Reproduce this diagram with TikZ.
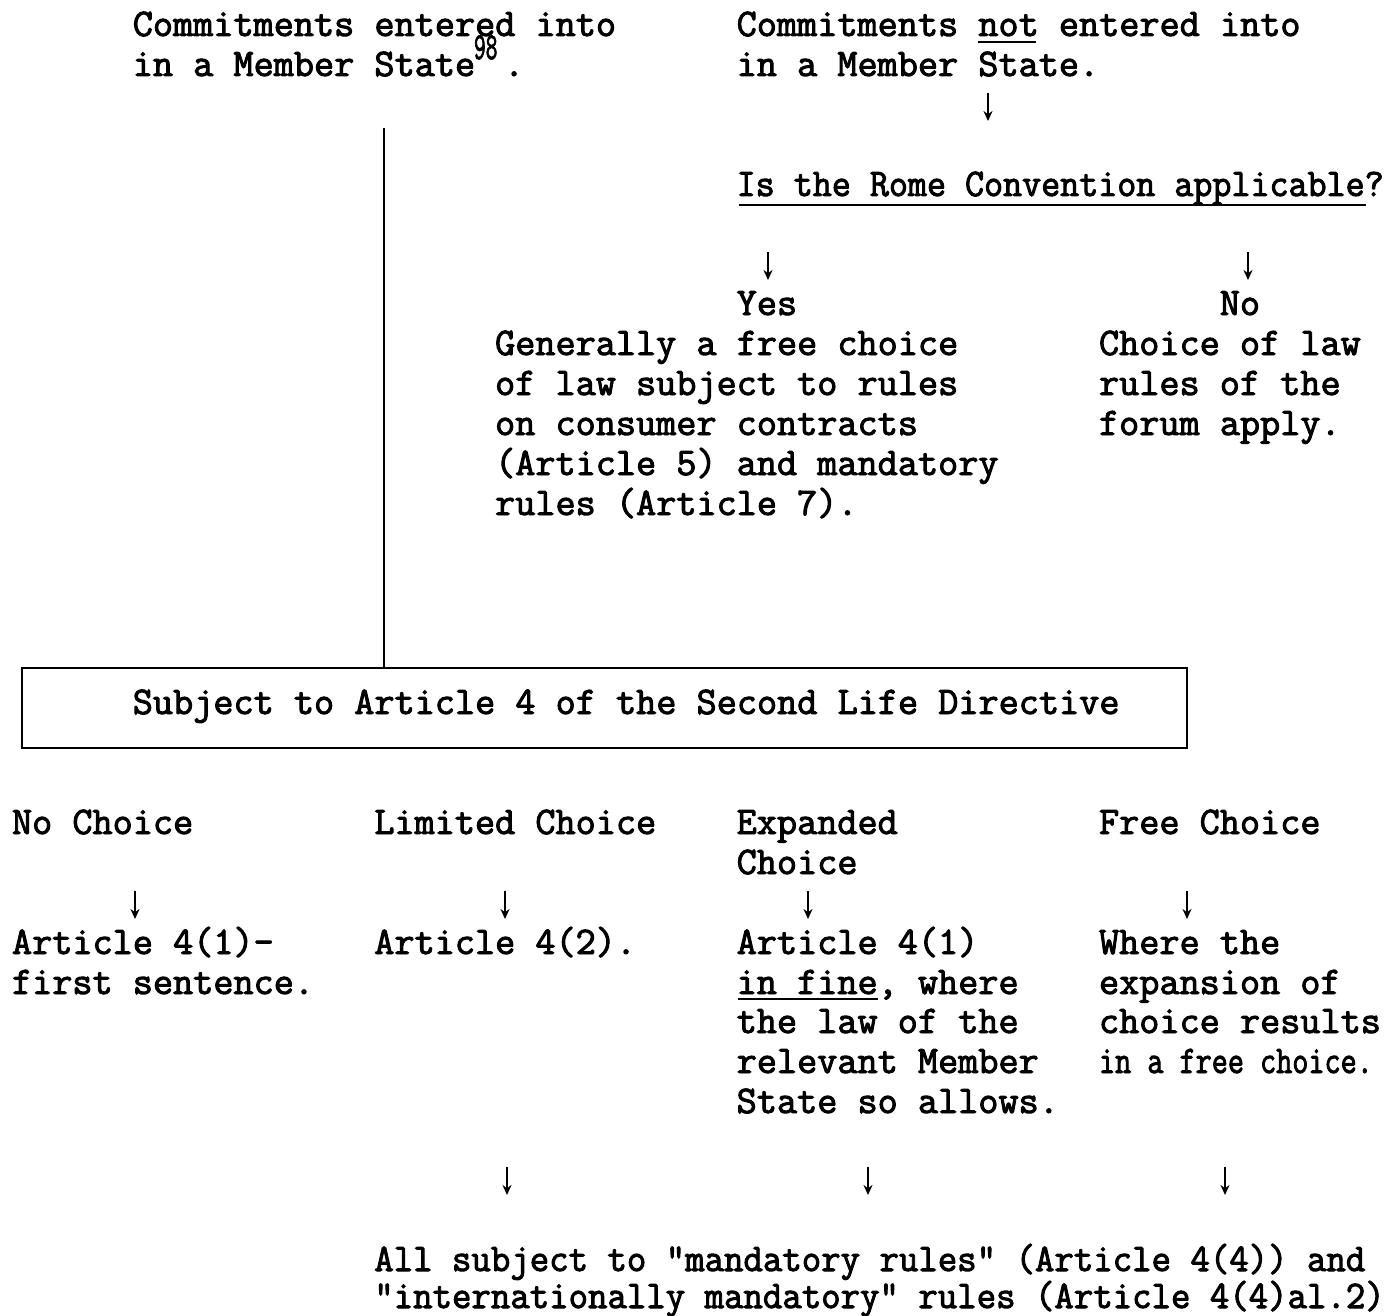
\documentclass[tikz,border=0pt]{standalone}
\usepackage{fontspec}
\usepackage{graphicx}
\usetikzlibrary{arrows.meta}
\newfontfamily\tw{Latin Modern Mono}[FakeBold=2.5]
\newcommand\dnarrow[3]{\coordinate (#1t) at (#2,{#3-23}); \coordinate (#1b) at (#2,{#3+5}); \draw[arr] (#1t) -- (#1b);}
\begin{document}
\begin{tikzpicture}[x=1pt,y=-1pt,
  tl/.style={anchor=base west, inner sep=0pt, outer sep=0pt, font=\fontsize{39.1}{40}\selectfont\tw},
  arr/.style={line width=1.8pt, -{Stealth[length=10pt,width=9pt]}},
  ul/.style={line width=1.8pt},
  frame/.style={draw, line width=2pt, inner sep=0pt, outer sep=0pt}]
\useasboundingbox (0,0) rectangle (1390,1316);

% top left
\node[tl] (l0a) at (132.8,36) {Commitments entered into};
\node[tl] (l1a) at (132.8,76) {in a Member State};
\node[tl, font=\fontsize{38}{38}\selectfont\tw] (sup) at (474,59) {\scalebox{0.6}[1]{98}};
\node[tl] (dot) at (504,76) {.};

% top right
\node[tl] (l0b) at (736.7,36) {Commitments not entered into};
\node[tl] (l1b) at (736.7,76) {in a Member State.};
\draw[ul] (978.2,42) -- (1036,42);
\dnarrow{a1}{988}{116}
\node[tl] (rome) at (736.7,196) {\scalebox{0.945}[1]{Is the Rome Convention applicable?}};
\draw[ul] (739,205) -- (1366,205);
\dnarrow{a2}{768}{275}
\dnarrow{a3}{1248}{275}
\node[tl] (yes) at (736.7,315) {Yes};
\node[tl] (no) at (1219.8,315) {No};
\node[tl] (g1) at (495.1,355) {Generally a free choice};
\node[tl] (g2) at (495.1,395) {of law subject to rules};
\node[tl] (g3) at (495.1,435) {on consumer contracts};
\node[tl] (g4) at (495.1,475) {(Article 5) and mandatory};
\node[tl] (g5) at (495.1,515) {rules (Article 7).};
\node[tl] (c1) at (1099,355) {Choice of law};
\node[tl] (c2) at (1099,395) {rules of the};
\node[tl] (c3) at (1099,435) {forum apply.};

% box
\node[frame, anchor=north west, minimum width=1165pt, minimum height=80pt] (box) at (22,668) {};
\node[tl] (boxt) at (132.8,714) {Subject to Article 4 of the Second Life Directive};
\coordinate (vtop) at (384,128);
\draw[line width=2pt] (vtop) -- (vtop |- box.north);

% choices
\node[tl] (nc) at (12,834) {No Choice};
\node[tl] (lc) at (374.3,834) {Limited Choice};
\node[tl] (ec) at (736.7,834) {Expanded};
\node[tl] (ec2) at (736.7,874) {Choice};
\node[tl] (fc) at (1099,834) {Free Choice};
\dnarrow{b1}{135}{914}
\dnarrow{b2}{505}{914}
\dnarrow{b3}{808}{914}
\dnarrow{b4}{1187}{914}

\node[tl] (n1) at (12,954) {Article 4(1)-};
\node[tl] (n2) at (12,994) {first sentence.};
\node[tl] (m1) at (374.3,954) {Article 4(2).};
\node[tl] (e1) at (736.7,954) {Article 4(1)};
\node[tl] (e2) at (736.7,994) {in fine, where};
\draw[ul] (738,999) -- (877.6,999);
\node[tl] (e3) at (736.7,1033) {the law of the};
\node[tl] (e4) at (736.7,1073) {relevant Member};
\node[tl] (e5) at (736.7,1113) {State so allows.};
\node[tl] (f1) at (1099,954) {Where the};
\node[tl] (f2) at (1099,994) {expansion of};
\node[tl] (f3) at (1099,1033) {choice results};
\node[tl] (f4) at (1099,1073) {\scalebox{0.8}[1]{in a free choice.}};

\dnarrow{d1}{507}{1190}
\dnarrow{d2}{868}{1190}
\dnarrow{d3}{1225}{1190}

\node[tl] (all1) at (374.3,1271) {\scalebox{0.965}[1]{All subject to "mandatory rules" (Article 4(4)) and}};
\node[tl] (all2) at (374.3,1308) {\scalebox{0.965}[1]{"internationally mandatory" rules (Article 4(4)al.2)}};
\end{tikzpicture}
\end{document}
